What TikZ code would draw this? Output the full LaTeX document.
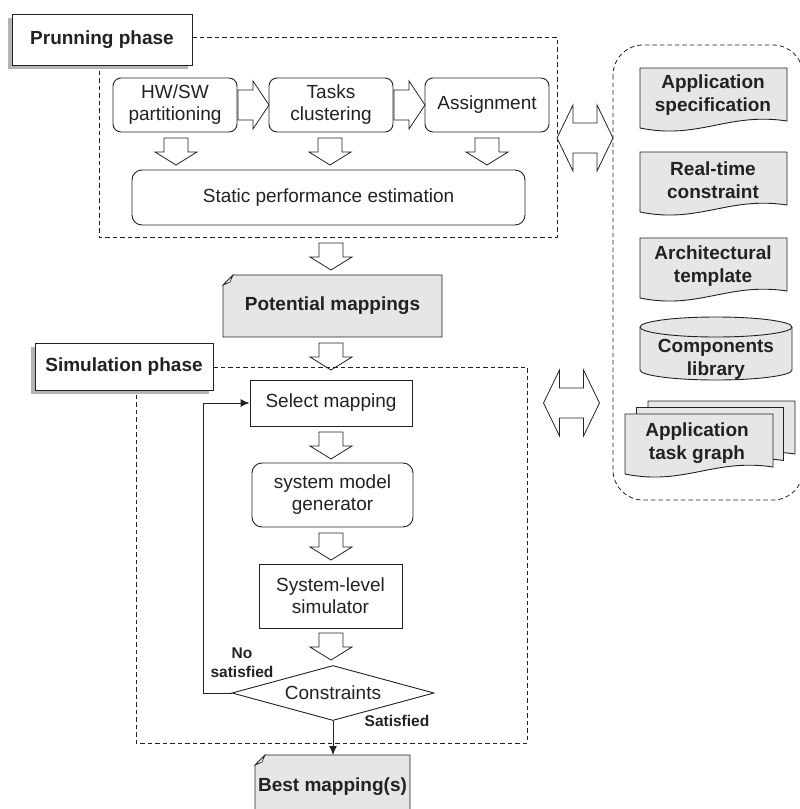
\documentclass[tikz,border=0pt]{standalone}
\usepackage{fontspec}
\setmainfont{Liberation Sans}
\usetikzlibrary{shapes.geometric,shadows,arrows.meta}
\definecolor{ink}{HTML}{222222}
\definecolor{paper}{HTML}{E6E6E6}
\definecolor{shade}{HTML}{B4B4B4}

\tikzset{
  txt/.style={font=\fontsize{19}{22}\selectfont, text=ink, align=center},
  bold/.style={font=\fontsize{19}{23}\selectfont\bfseries, text=ink, align=center},
  small/.style={font=\fontsize{15.5}{19}\selectfont\bfseries, text=ink, align=center},
  procbox/.style={txt, draw=ink, inner sep=0pt},
  roundbox/.style={procbox, rounded corners=8pt},
  phaselabel/.style={bold, draw=ink, fill=white, inner sep=0pt,
    drop shadow={shadow xshift=-4pt, shadow yshift=-4pt, fill=shade, opacity=1}},
  region/.style={draw=ink, line width=0.8pt, dash pattern=on 4.5pt off 3pt},
  docfill/.style={draw=ink, fill=paper, line width=0.9pt},
  blockarrow/.style={draw=ink, fill=white, line width=0.8pt, line join=miter},
  flow/.style={draw=ink, line width=1pt, -{Latex[length=9pt, width=8pt]}},
  downblk/.pic={\path[blockarrow] (-12,0) -- (12,0) -- (12,14) -- (21,14) -- (0,27)
      -- (-21,14) -- (-12,14) -- cycle;},
  rightblk/.pic={\path[blockarrow] (0,-15) -- (15,-15) -- (15,-24) -- (31,0) -- (15,24)
      -- (15,15) -- (0,15) -- cycle;},
  bothblk/.pic={\path[blockarrow] (-28,0) -- (-12,-33) -- (-12,-15) -- (12,-15) -- (12,-33)
      -- (28,0) -- (12,33) -- (12,15) -- (-12,15) -- (-12,33) -- cycle;}
}

% document sheet with a wavy lower edge: x, top y, width, height
\newcommand{\drawdoc}[4]{%
  \path[docfill] (#1,#2) -- ({#1+#3},#2) -- ({#1+#3},{#2+#4-7})
    .. controls ({#1+0.6*#3},{#2+#4-16}) and ({#1+0.4*#3},{#2+#4+12}) .. (#1,{#2+#4}) -- cycle;}

% sheet with a folded top-left corner: x1, y1, x2, y2
\newcommand{\drawfolded}[4]{%
  \path[docfill] (#1,{#2+10}) -- ({#1+10},#2) -- (#3,#2) -- (#3,#4) -- (#1,#4) -- cycle;
  \path[draw=ink, fill=white, line width=0.7pt] (#1,{#2+10}) -- ({#1+10},#2) -- ({#1+7},{#2+7}) -- cycle;}

\begin{document}
\begin{tikzpicture}[x=1pt, y=-1pt, line width=0.9pt, color=ink]
\clip (0,0) rectangle (800,809);
\fill[white] (0,0) rectangle (800,809);

% ---------------- pruning phase ----------------
\draw[region] (192,37) -- (557,37) -- (557,237) -- (99,237) -- (99,65);
\node[phaselabel, minimum width=180pt, minimum height=51pt] (prun) at (102,39.5) {Prunning phase};

\node[roundbox, minimum width=124pt, minimum height=54pt] (hwsw) at (175,105) {HW/SW\\partitioning};
\node[roundbox, minimum width=124pt, minimum height=54pt] (tasks) at (331,105) {Tasks\\clustering};
\node[roundbox, minimum width=124pt, minimum height=54pt] (assign) at (487,105) {Assignment};
\node[procbox, rounded corners=10pt, minimum width=393pt, minimum height=55pt] (static) at (328.5,197.5) {Static performance estimation};

\pic at (238,105) {rightblk};
\pic at (394,105) {rightblk};
\pic at (176,138) {downblk};
\pic at (330,138) {downblk};
\pic at (487,138) {downblk};

% ---------------- potential mappings ----------------
\pic at (331,243) {downblk};
\drawfolded{223}{275}{442}{337}
\node[bold] (potential) at (332.5,306) {Potential mappings};
\pic at (331,343) {downblk};

% ---------------- simulation phase ----------------
\draw[region] (213,367) -- (527,367) -- (527,743) -- (136,743) -- (136,390);
\node[phaselabel, minimum width=178pt, minimum height=47pt] (sim) at (124,366.5) {Simulation phase};

\node[procbox, minimum width=162pt, minimum height=46pt] (select) at (331,403) {Select mapping};
\pic at (331,432) {downblk};
\node[roundbox, rounded corners=10pt, minimum width=161pt, minimum height=64pt] (smg) at (332.5,495) {system model\\generator};
\pic at (331,533) {downblk};
\node[procbox, minimum width=143pt, minimum height=64pt] (sls) at (330.5,596) {System-level\\simulator};
\pic at (331,633) {downblk};
\node[diamond, txt, draw=ink, fill=white, aspect=3.7, minimum width=202pt, minimum height=55pt, inner sep=0pt] (dia) at (333,693) {Constraints};

\coordinate (loop) at (203,693);
\draw[flow] (dia.west) -- (loop) |- (select.west);
\node[small] at (242,663) {No\\satisfied};
\node[small] at (397,721) {Satisfied};

\drawfolded{255}{755}{410}{817}
\node[bold] (best) at (332.5,787) {Best mapping(s)};
\coordinate (bestTop) at (333,755);
\draw[flow] (dia.south) -- (bestTop);

% ---------------- design inputs ----------------
\draw[region, rounded corners=30pt] (613,45) rectangle (803,500);

\drawdoc{640}{68}{147}{60}
\node[bold] (spec) at (713,95) {Application\\specification};
\drawdoc{640}{152}{147}{60}
\node[bold] (rt) at (713,180.5) {Real-time\\constraint};
\drawdoc{640}{238}{147}{60}
\node[bold] (arch) at (713,266.5) {Architectural\\template};

% components library drum
\path[docfill] (640,327) -- (640,370) arc[start angle=180, end angle=360, x radius=76pt, y radius=10pt]
  -- (792,327) arc[start angle=0, end angle=180, x radius=76pt, y radius=10pt] -- cycle;
\draw[line width=0.9pt] (640,327) arc[start angle=180, end angle=360, x radius=76pt, y radius=10pt];
\node[bold] (lib) at (716,359) {Components\\library};

% stacked task graph sheets
\drawdoc{648}{401}{147}{60}
\drawdoc{636.5}{407.5}{147}{60}
\drawdoc{625}{414}{148}{60}
\node[bold] (graph) at (697,443.5) {Application\\task graph};

% exchange with the inputs
\pic at (585,138) {bothblk};
\pic at (571.5,403) {bothblk};
\end{tikzpicture}
\end{document}
